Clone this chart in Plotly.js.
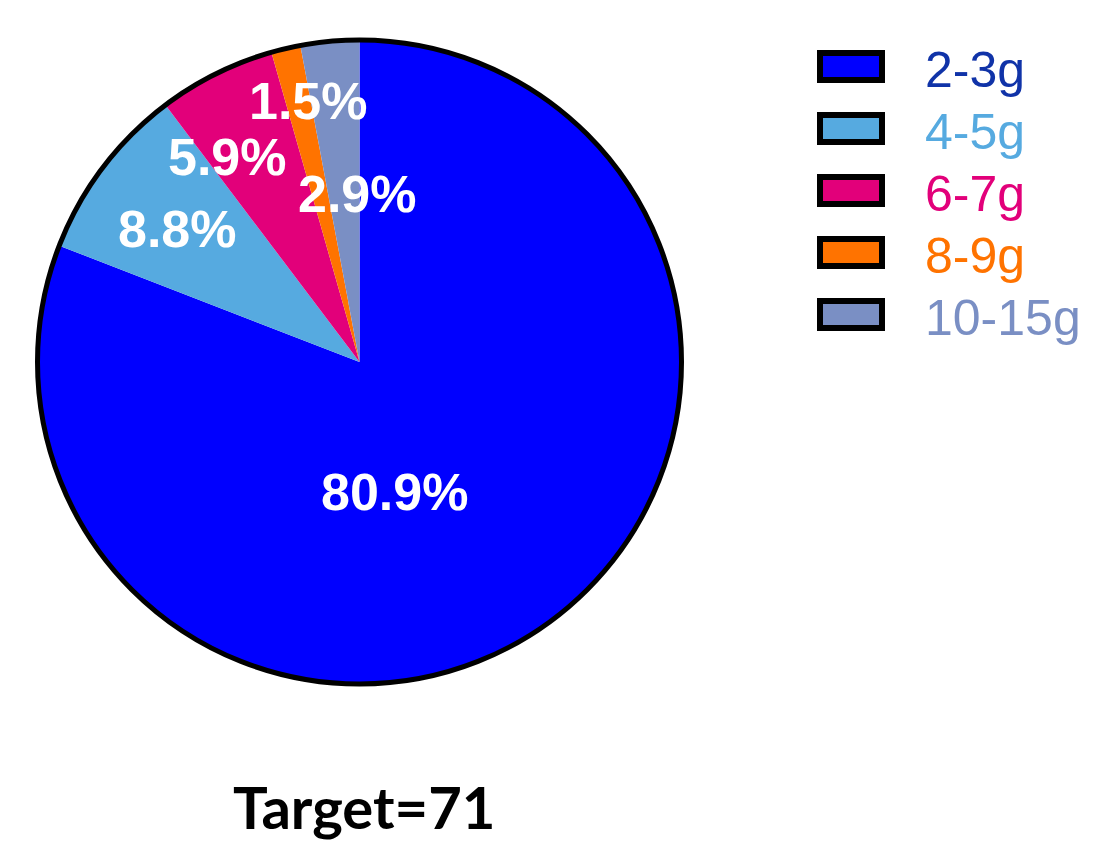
<!DOCTYPE html>
<html><head><meta charset="utf-8">
<script src="https://cdn.plot.ly/plotly-3.0.1.min.js"></script>
<style>html,body{margin:0;padding:0;background:#fff}#chart{width:1093px;height:841px}</style>
</head><body><div id="chart"></div>
<script>
const categories = ['2-3g','4-5g','6-7g','8-9g','10-15g'];
const counts = [55, 6, 4, 1, 2];
const sliceColors = ['#0000FF','#56AAE0','#E2007A','#FF7300','#7A8FC4'];
const legendTextColors = ['#1033A8','#56AAE0','#E2007A','#FF7300','#7A8FC4'];
const titleText = 'Target=71';
// label placement (pixel positions of percentage labels)
const labelPx = [[394,492],[177,229],[227,157],[308,101],[357,194]];

const W = 1093, H = 841;
const cx = 359.5, cy = 362, R = 322;
const dom = {x:[(cx-R)/W,(cx+R)/W], y:[1-(cy+R)/H, 1-(cy-R)/H]};
const total = counts.reduce((a,b)=>a+b,0);

const pie = {
  type:'pie', values:counts, labels:categories, sort:false, direction:'clockwise', rotation:0,
  marker:{colors:sliceColors, line:{width:0}}, textinfo:'none', showlegend:false, domain:dom, hoverinfo:'label+percent'
};
const ring = {
  type:'pie', values:[1], labels:['outline'], sort:false, marker:{colors:['rgba(0,0,0,0)'], line:{color:'#000', width:5}},
  textinfo:'none', showlegend:false, hoverinfo:'skip', domain:dom
};

const annotations = [];
const shapes = [];
counts.forEach((v,i)=>{
  annotations.push({xref:'paper',yref:'paper',x:labelPx[i][0]/W,y:1-labelPx[i][1]/H,xanchor:'center',yanchor:'middle',
    text:'<b>'+(v/total*100).toFixed(1)+'%</b>',showarrow:false,font:{family:'Arial',size:52,color:'#fff'}});
});
categories.forEach((c,i)=>{
  const top = 50 + i*62;
  shapes.push({type:'rect',xref:'paper',yref:'paper',x0:820/W,x1:882/W,y0:1-(top+3)/H,y1:1-(top+30)/H,
    fillcolor:sliceColors[i],line:{color:'#000',width:6}});
  annotations.push({xref:'paper',yref:'paper',x:923/W,y:1-(top+20)/H,xanchor:'left',yanchor:'middle',text:c,showarrow:false,
    font:{family:'Arial',size:50,color:legendTextColors[i]}});
});
annotations.push({xref:'paper',yref:'paper',x:364/W,y:1-806/H,xanchor:'center',yanchor:'middle',text:'<b>'+titleText+'</b>',showarrow:false,
  font:{family:'Lato',size:58,color:'#000'}});

Plotly.newPlot('chart',[pie,ring],{
  width:W,height:H,margin:{l:0,r:0,t:0,b:0},paper_bgcolor:'#fff',plot_bgcolor:'#fff',showlegend:false,
  annotations:annotations,shapes:shapes
},{displayModeBar:false,staticPlot:true});
</script></body></html>
